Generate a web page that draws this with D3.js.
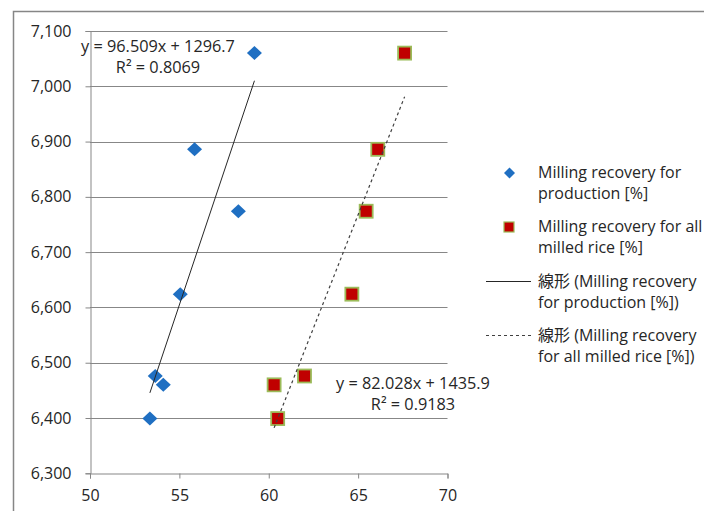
<!DOCTYPE html>
<html><head><meta charset="utf-8">
<script src="https://cdn.jsdelivr.net/npm/d3@7"></script>
<style>
html,body{margin:0;padding:0;background:#fff;}
text{font-family:"Open Sans","Noto Sans CJK JP",sans-serif;fill:#262626;}
</style></head>
<body><svg id="c" width="704" height="511"></svg>
<script>
// Data
const seriesNames = ["Milling recovery for production [%]", "Milling recovery for all milled rice [%]"];
const prodX = [59.2, 55.85, 58.3, 55.05, 53.65, 54.1, 53.35];
const prodY = [7060, 6886, 6774, 6624, 6476, 6460, 6399];
const allX  = [67.6, 66.1, 65.45, 64.65, 62.0, 60.3, 60.5];
const allY  = [7060, 6886, 6774, 6624, 6476, 6460, 6399];
const trendSlope = [96.509, 82.028];
const trendIntercept = [1296.7, 1435.9];
const trendR2 = ["0.8069", "0.9183"];
const xTicks = [50, 55, 60, 65, 70];
const yTicks = [6300, 6400, 6500, 6600, 6700, 6800, 6900, 7000, 7100];
const legendLabels = [
  ["Milling recovery for", "production [%]"],
  ["Milling recovery for all", "milled rice [%]"],
  ["線形 (Milling recovery", "for production [%])"],
  ["線形 (Milling recovery", "for all milled rice [%])"]
];

const svg = d3.select("#c");
const x = d3.scaleLinear().domain([50, 70]).range([90, 447.5]);
const y = d3.scaleLinear().domain([6300, 7100]).range([473.3, 31]);
const grid = "#878787";
const FS = 16;

// outer border
svg.append("rect").attr("x", 13.5).attr("y", 11.5).attr("width", 720).attr("height", 520)
  .attr("fill", "none").attr("stroke", "#868686").attr("stroke-width", 1.5);

// gridlines
svg.append("g").selectAll("line").data(yTicks.slice(1)).join("line")
  .attr("x1", x(50)).attr("x2", x(70))
  .attr("y1", d => Math.round(y(d)) + 0.5).attr("y2", d => Math.round(y(d)) + 0.5)
  .attr("stroke", grid).attr("stroke-width", 1);

// y axis
const yAxis = d3.axisLeft(y).tickValues(yTicks).tickSize(5).tickPadding(14)
  .tickFormat(d3.format(","));
const gy = svg.append("g").attr("transform", `translate(${Math.round(x(50)) + 0.5},0)`).call(yAxis);
gy.select(".domain").attr("stroke", grid);
gy.selectAll(".tick line").attr("stroke", grid);
gy.selectAll(".tick text").attr("font-size", FS).attr("fill", "#262626")
  .style("font-family", "'Open Sans',sans-serif");

// x axis
const xAxis = d3.axisBottom(x).tickValues(xTicks).tickSize(5).tickPadding(11);
const gx = svg.append("g").attr("transform", `translate(0,${Math.round(y(6300)) + 0.5})`).call(xAxis);
gx.select(".domain").attr("stroke", grid);
gx.selectAll(".tick line").attr("stroke", grid);
gx.selectAll(".tick text").attr("font-size", FS).attr("fill", "#262626")
  .style("font-family", "'Open Sans',sans-serif");

// trend lines
function trend(i, xs, dash) {
  const x0 = d3.min(xs), x1 = d3.max(xs);
  svg.append("line")
    .attr("x1", x(x0)).attr("y1", y(trendSlope[i] * x0 + trendIntercept[i]))
    .attr("x2", x(x1)).attr("y2", y(trendSlope[i] * x1 + trendIntercept[i]))
    .attr("stroke", dash ? "#404040" : "#262626").attr("stroke-width", dash ? 1.2 : 1)
    .attr("stroke-dasharray", dash ? "3,3" : null);
}

// markers
const diamond = (cx, cy, w, h) => `M${cx},${cy - h}L${cx + w},${cy}L${cx},${cy + h}L${cx - w},${cy}Z`;
const blue = "#1f6fc2";
svg.append("g").selectAll("path").data(d3.range(prodX.length)).join("path")
  .attr("d", i => diamond(x(prodX[i]), y(prodY[i]), 7.5, 7))
  .attr("fill", blue);

svg.append("g").selectAll("rect").data(d3.range(allX.length)).join("rect")
  .attr("x", i => x(allX[i]) - 6.5).attr("y", i => y(allY[i]) - 6.5)
  .attr("width", 13).attr("height", 13)
  .attr("fill", "#c00000").attr("stroke", "#9bbb59").attr("stroke-width", 1.8);

trend(0, prodX, false);
trend(1, allX, true);

// equation labels
function eq(i, cx, by) {
  const g = svg.append("g").attr("font-size", FS + 0.3);
  g.append("text").attr("x", cx).attr("y", by).attr("text-anchor", "middle")
    .text(`y = ${trendSlope[i]}x + ${trendIntercept[i]}`);
  g.append("text").attr("x", cx).attr("y", by + 21).attr("text-anchor", "middle")
    .text(`R² = ${trendR2[i]}`);
}
eq(0, 158, 52);
eq(1, 413, 389);

// legend
const lg = svg.append("g").attr("font-size", FS);
const lx = 538, lineY = [177.5, 232, 287, 341];
lg.append("path").attr("d", diamond(509.5, 173, 5.5, 5.5)).attr("fill", blue);
lg.append("rect").attr("x", 504).attr("y", 222).attr("width", 10).attr("height", 10)
  .attr("fill", "#c00000").attr("stroke", "#9bbb59").attr("stroke-width", 1.2);
lg.append("line").attr("x1", 486).attr("x2", 531).attr("y1", 281.5).attr("y2", 281.5)
  .attr("stroke", "#262626").attr("stroke-width", 1);
lg.append("line").attr("x1", 486).attr("x2", 531).attr("y1", 335.5).attr("y2", 335.5)
  .attr("stroke", "#404040").attr("stroke-width", 1).attr("stroke-dasharray", "3,3");
legendLabels.forEach((lines, i) => {
  lines.forEach((t, j) => {
    lg.append("text").attr("x", lx).attr("y", lineY[i] + j * 21).text(t);
  });
});
</script></body></html>
